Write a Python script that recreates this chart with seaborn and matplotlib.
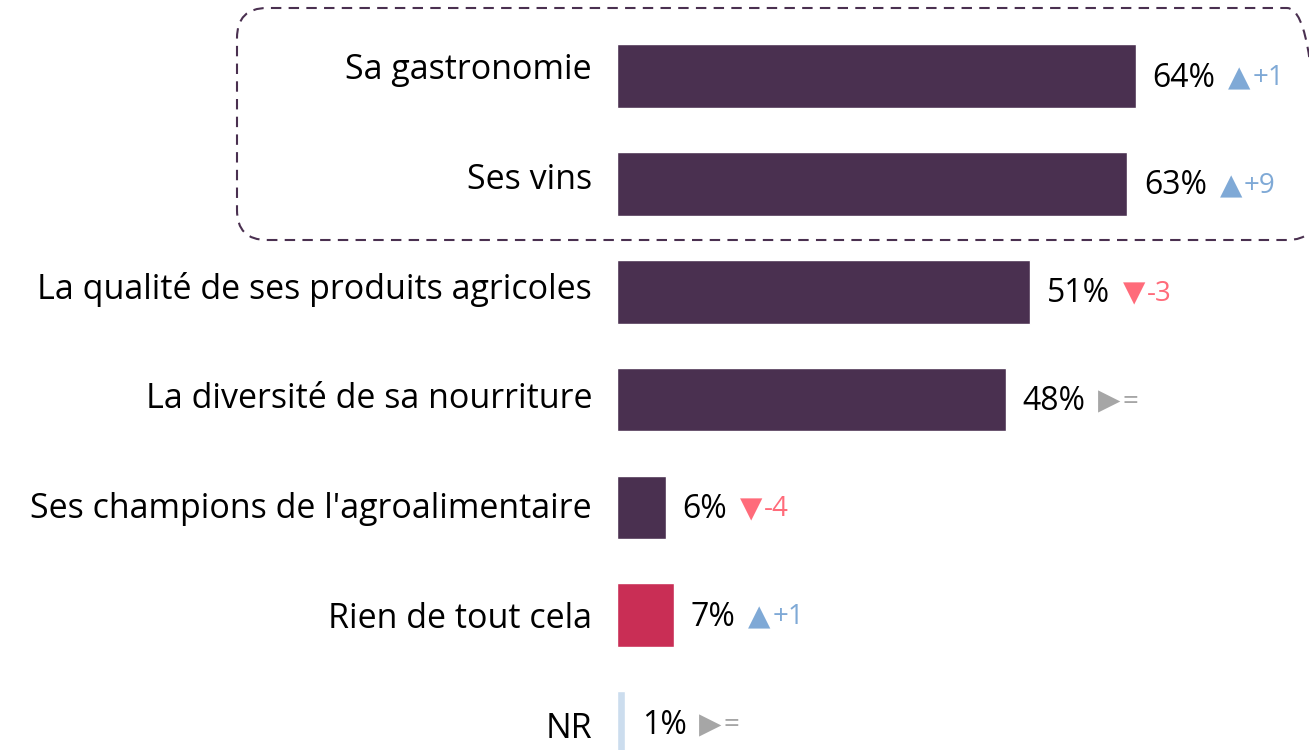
import matplotlib
matplotlib.use("Agg")
import matplotlib.pyplot as plt
import seaborn as sns
from matplotlib.patches import FancyBboxPatch
from matplotlib.transforms import IdentityTransform, ScaledTranslation

# données
categories = ["Sa gastronomie", "Ses vins", "La qualité de ses produits agricoles",
              "La diversité de sa nourriture", "Ses champions de l'agroalimentaire",
              "Rien de tout cela", "NR"]
values = [64, 63, 51, 48, 6, 7, 1]
deltas = ["+1", "+9", "-3", "=", "-4", "+1", "="]
bar_colors = ["#4A3050", "#4A3050", "#4A3050", "#4A3050", "#4A3050", "#C92E55", "#CCDDEE"]

sns.set_style("white")
plt.rcParams['font.family'] = ['Open Sans', 'DejaVu Sans']

fig = plt.figure(figsize=(13.09, 7.5), dpi=100)
ax = fig.add_axes([617 / 1309, 0, 692 / 1309, 1])

sns.barplot(x=values, y=categories, hue=categories, palette=bar_colors,
            legend=False, width=0.59, orient="h", ax=ax, saturation=1)

ax.set_xlim(0, 85.4)
ax.set_ylim(6.25, -0.705)
ax.set_xticks([])
ax.set_xlabel("")
ax.set_ylabel("")
for s in ax.spines.values():
    s.set_visible(False)
ax.tick_params(axis="y", length=0, pad=18, labelsize=24.5, labelcolor="black")

# léger décalage vertical des libellés (comme dans l'original)
for i, lab in enumerate(ax.get_yticklabels()):
    dy = (5 - i) * 1.5 / 72
    lab.set_transform(lab.get_transform() + ScaledTranslation(0, dy, fig.dpi_scale_trans))

# étiquettes de valeurs + évolutions
for i, (v, d) in enumerate(zip(values, deltas)):
    t = ax.annotate(f"{v}%", xy=(v, i), xytext=(12, -1.5), textcoords="offset points",
                    ha="left", va="center", fontsize=23, color="black",
                    annotation_clip=False)
    if d == "=":
        sym, col = "▶", "#A6A6A6"
    elif d.startswith("+"):
        sym, col = "▲", "#7FA9D6"
    else:
        sym, col = "▼", "#FF6B7A"
        d = "-" + d[1:]
    m = ax.annotate(sym, xy=(1, 0.5), xycoords=t, xytext=(9, 0), textcoords="offset points",
                    ha="left", va="center", fontsize=21, color=col,
                    family="DejaVu Sans", annotation_clip=False)
    ax.annotate(d, xy=(1, 0.5), xycoords=m, xytext=(1.5, 0), textcoords="offset points",
                ha="left", va="center", fontsize=20, color=col, annotation_clip=False)

# cadre pointillé autour des deux premiers items
box = FancyBboxPatch((237, 750 - 240), 1080, 232,
                     boxstyle="round,pad=0,rounding_size=30",
                     transform=IdentityTransform(), fill=False,
                     edgecolor="#4A3050", linewidth=1.5, linestyle=(0, (5, 3.5)))
fig.patches.append(box)

fig.savefig("out.png", dpi=100)
